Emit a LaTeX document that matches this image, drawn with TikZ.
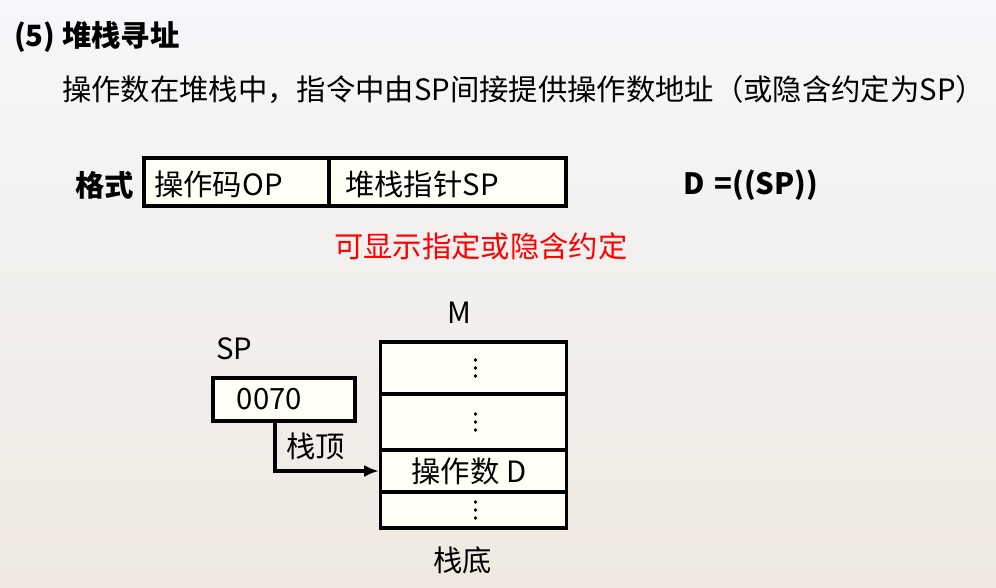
\documentclass[tikz,border=0pt]{standalone}
\usepackage{fontspec}
\setmainfont{Noto Sans CJK SC}
\usetikzlibrary{arrows.meta}
\definecolor{cellfill}{HTML}{FFFFF6}
\definecolor{bgtop}{HTML}{F5F7FA}
\definecolor{bgbot}{HTML}{EFE9E1}
\definecolor{redtxt}{HTML}{FF0000}
\begin{document}
\begin{tikzpicture}[x=0.75pt,y=-0.75pt,
  txt/.style={inner sep=0pt,anchor=west,font=\fontsize{22}{26}\selectfont},
  btxt/.style={inner sep=0pt,anchor=west,font=\fontsize{22}{26}\selectfont\bfseries},
  cell/.style={draw=black,line width=2.4pt,fill=cellfill,inner sep=0pt,minimum width=186*0.75pt,font=\fontsize{22}{26}\selectfont},
  field/.style={draw=black,line width=2.4pt,fill=cellfill,inner sep=0pt,minimum height=48*0.75pt},
  dotmark/.style={fill=black},
  conn/.style={line width=2.4pt,-{Latex[length=11pt,width=9pt]}}]
\useasboundingbox (0,0) rectangle (996,588);
\shade[top color=bgtop,bottom color=bgbot] (0,0) rectangle (996,588);
% title and description
\node[btxt] (title) at (14,37) {(5) 堆栈寻址};
\node[txt] (desc) at (62,90) {操作数在堆栈中，指令中由SP间接提供操作数地址（或隐含约定为SP）};
% format
\node[btxt] (fmt) at (75,185) {格式};
\node[field,minimum width=185*0.75pt] (op) at (236.5,182) {};
\node[field,minimum width=237*0.75pt] (spf) at (447.5,182) {};
\node[txt] (optxt) at (154,184) {操作码OP};
\node[txt] (sptxt) at (345,184) {堆栈指针SP};
\node[btxt] (eq) at (683,185) {D\,\,=((SP))};
\node[txt,text=redtxt] (note) at (334,246) {可显示指定或隐含约定};
% memory
\node[txt] (mlbl) at (447,313) {M};
\node[cell,minimum height=52*0.75pt] (c1) at (473.5,368) {};
\node[cell,minimum height=56*0.75pt] (c2) at (473.5,422) {};
\node[cell,minimum height=42*0.75pt] (c3) at (473.5,471) {\hspace*{-7pt}操作数 D};
\node[cell,minimum height=36*0.75pt] (c4) at (473.5,510) {};
\foreach \c in {c1,c2,c4}{
  \foreach \dy in {-8,0,8}{
    \fill[dotmark] ([yshift=\dy*0.75pt,xshift=1.5pt]\c.center) circle[radius=1.4pt];
  }
}
\node[txt] (bot) at (433,560) {栈底};
% SP register
\node[txt] (splbl) at (216,349) {SP};
\node[draw=black,line width=2.4pt,fill=cellfill,inner sep=0pt,minimum width=142*0.75pt,minimum height=43*0.75pt,font=\fontsize{22}{26}\selectfont] (sp) at (284,399.5) {\hspace*{-22pt}0070};
\node[txt] (top) at (286,446) {栈顶};
\draw[conn] ([xshift=-9*0.75pt]sp.south) |- (c3.west);
\end{tikzpicture}
\end{document}
